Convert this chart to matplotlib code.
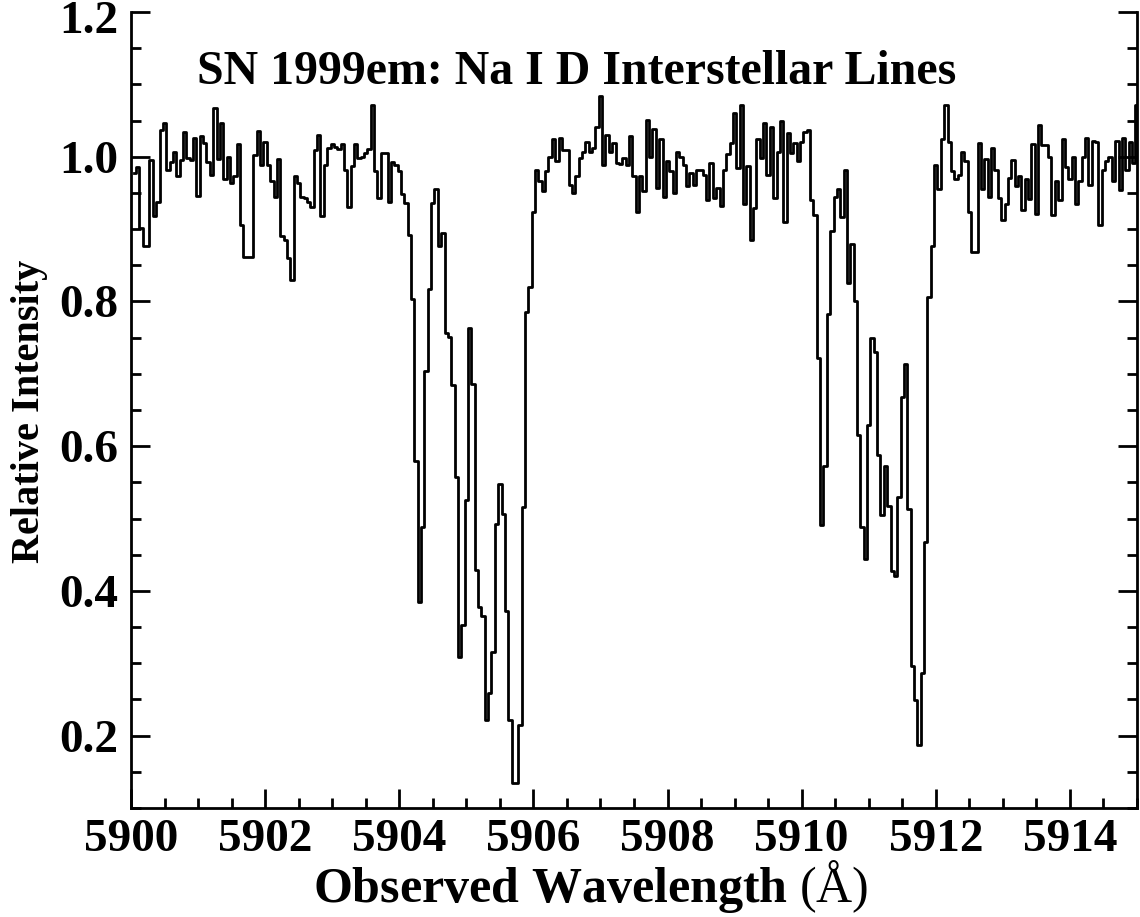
import numpy as np
import matplotlib
matplotlib.use('Agg')
import matplotlib.pyplot as plt

plt.rcParams['font.family'] = 'Liberation Serif'
plt.rcParams['font.weight'] = 'bold'
plt.rcParams['mathtext.fontset'] = 'custom'
plt.rcParams['mathtext.rm'] = 'Liberation Serif:normal'

# spectrum sampled every 0.05 A starting at 5900.05 A
wave_start = 5900.05
wave_step = 0.05

cont_blue = [0.977, 0.986, 0.901, 0.876, 0.876, 0.995, 0.918, 0.938, 1.037, 1.047,
             0.982, 0.993, 1.007, 0.973, 0.995, 1.034, 0.998, 0.995, 1.026, 0.946,
             1.028, 1.019, 0.993, 0.975, 1.067, 0.997, 1.047, 0.969, 1.000,
             0.964, 0.973, 1.018, 0.906, 0.862, 0.862, 0.862, 1.003, 1.036, 0.988,
             1.020, 0.989, 0.966, 0.945, 0.997, 0.890, 0.885, 0.860, 0.829, 0.973,
             0.964, 0.945, 0.943, 0.937, 0.931, 1.009, 1.030, 0.918, 0.989, 1.012,
             1.018, 1.014, 1.010, 1.018, 0.982, 0.931, 0.987, 1.018, 0.998, 1.000,
             1.005, 1.010, 1.071, 0.980, 0.943, 1.005, 1.005, 0.938, 0.993, 0.988,
             0.980]

d2_line = [0.949, 0.936, 0.892, 0.804, 0.579, 0.385, 0.488, 0.704, 0.817, 0.936,
           0.956, 0.876, 0.895, 0.757, 0.751, 0.685, 0.557, 0.309, 0.353, 0.525,
           0.763, 0.686, 0.429, 0.378, 0.365, 0.221, 0.259, 0.315, 0.492, 0.548,
           0.506, 0.372, 0.221, 0.134, 0.134, 0.215, 0.516, 0.785, 0.820, 0.923,
           0.982]

cont_mid = [0.967, 0.952, 0.980, 1.000, 1.024, 0.994, 1.026, 1.009, 1.009, 0.961,
            0.950, 0.974, 0.998, 1.006, 1.020, 1.007, 1.012, 1.041, 1.084, 0.989,
            1.030, 1.007, 1.019, 0.992, 0.990, 0.998, 0.988, 1.028, 0.973,
            0.923, 0.973, 0.952, 1.051, 1.000, 1.038, 0.957, 1.024, 0.945, 0.994,
            0.980, 0.950, 1.006, 1.000, 0.988, 0.959, 0.978, 0.961, 0.982, 0.982,
            0.975, 0.940, 0.992, 0.943, 0.957, 0.932, 0.981,
            1.004, 1.019, 1.060, 0.984, 1.072, 0.934, 0.987, 0.885, 0.929, 1.024,
            0.998, 1.047, 0.975, 1.041, 0.943, 1.007, 1.049, 0.910, 1.033, 1.005,
            1.019, 0.994, 1.020, 1.034, 1.037, 0.940, 0.920]

d1_line = [0.722, 0.491, 0.572, 0.782, 0.898, 0.944, 0.956, 0.917, 0.981, 0.826,
           0.880, 0.801, 0.616, 0.488, 0.444, 0.629, 0.749, 0.730, 0.588, 0.505,
           0.573, 0.517, 0.428, 0.420, 0.530, 0.668, 0.714, 0.513, 0.296, 0.249,
           0.187, 0.286, 0.467, 0.806, 0.876, 0.989]

cont_red = [0.955, 1.025, 1.072, 1.020, 0.980, 0.969, 0.975, 1.007, 0.994, 0.924,
            0.868, 0.868, 1.019, 0.955, 0.997, 0.944, 1.012, 0.982, 0.943, 0.912,
            0.934, 0.971, 0.995, 0.959, 0.974, 0.927, 0.969, 0.941,
            1.018, 0.921, 1.044, 1.016, 1.016, 1.000, 0.920, 0.966, 0.940, 1.025,
            0.986, 0.969, 1.000, 0.934, 0.967, 1.000, 1.026, 0.961, 1.022, 1.021,
            0.906, 0.982, 0.994, 1.000, 0.966, 1.022, 0.954, 1.026, 0.982, 1.021,
            0.991, 1.071]

flux = np.array(cont_blue + d2_line + cont_mid + d1_line + cont_red)
wave = wave_start + wave_step * np.arange(len(flux))

x_ticks = [5900, 5902, 5904, 5906, 5908, 5910, 5912, 5914]
y_ticks = [0.2, 0.4, 0.6, 0.8, 1.0, 1.2]

fig = plt.figure(figsize=(11.4, 9.17), dpi=100)
ax = fig.add_axes([131 / 1140, 109 / 917, 1006 / 1140, 796 / 917])

ax.step(wave, flux, where='mid', color='black', lw=2.0)

ax.set_xlim(5900, 5915)
ax.set_ylim(0.1, 1.2)
ax.set_xticks(x_ticks)
ax.set_xticklabels([str(t) for t in x_ticks])
ax.set_xticks(np.arange(5900, 5915.01, 0.5), minor=True)
ax.set_yticks(y_ticks)
# the top label sits just inside the figure edge, drawn separately below
ax.set_yticklabels(['%.1f' % t for t in y_ticks[:-1]] + [''])
ax.set_yticks(np.arange(0.1, 1.201, 0.05), minor=True)

ax.tick_params(which='both', direction='in', top=False, right=True, width=2,
               labelsize=34)
ax.tick_params(which='major', length=14)
ax.tick_params(which='minor', length=7)
ax.tick_params(axis='x', pad=8)
ax.tick_params(axis='y', pad=9)
for sp in ax.spines.values():
    sp.set_linewidth(2)
ax.spines['top'].set_visible(False)

ax.annotate('%.1f' % y_ticks[-1], xy=(0, y_ticks[-1]),
            xycoords=('axes fraction', 'data'), xytext=(-9, -7),
            textcoords='offset points', ha='right', va='center', fontsize=34,
            fontweight='bold')

ax.text(0.066, 0.924, 'SN 1999em: Na I D Interstellar Lines',
        transform=ax.transAxes, fontsize=34.5, fontweight='bold', va='center')

ax.set_xlabel(r'Observed Wavelength $\mathrm{(\AA)}$', fontsize=36, fontweight='bold')
ax.xaxis.label.set_va('baseline')
ax.xaxis.set_label_coords(0.4573, -0.118)
ax.set_ylabel('Relative Intensity', fontsize=29, fontweight='bold')
ax.yaxis.label.set_va('center')
ax.yaxis.set_label_coords(-0.1004, 0.498)

fig.savefig('out.png', dpi=100)
